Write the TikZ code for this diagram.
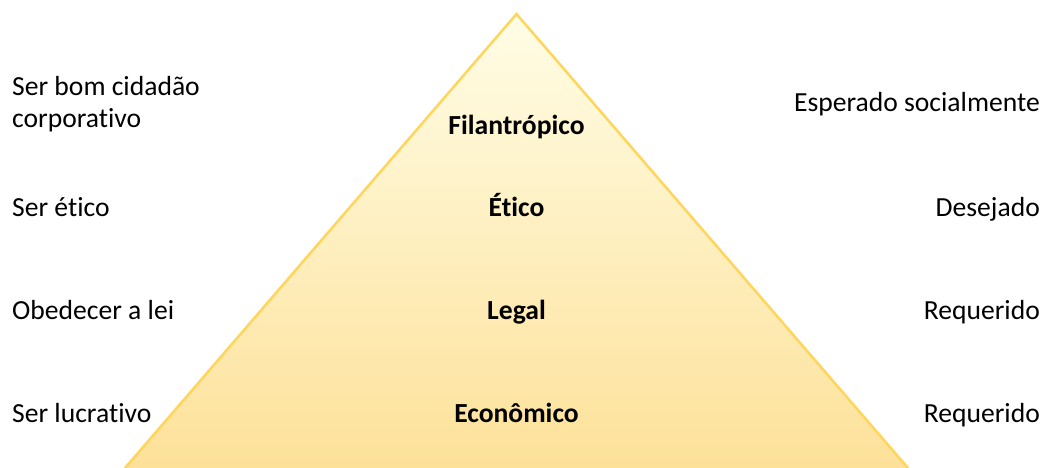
\documentclass[tikz,border=0pt]{standalone}
\usepackage{fontspec}
\setmainfont{Carlito}[Ligatures=NoCommon]
\definecolor{topfill}{HTML}{FFFDE6}
\definecolor{botfill}{HTML}{FDE199}
\definecolor{edge}{HTML}{FFD55C}
\begin{document}
\begin{tikzpicture}[x=1pt,y=-1pt,
  lbl/.style={font=\fontsize{27.6}{32.6}\selectfont, inner sep=0pt},
  lft/.style={lbl, anchor=base west, align=left},
  rgt/.style={lbl, anchor=base east, align=right},
  mid/.style={lbl, anchor=base, font=\fontsize{27.6}{32.6}\selectfont\bfseries}]
\useasboundingbox (0,0) rectangle (1043,468);
\coordinate (apex) at (516.5,14);
\coordinate (bl) at (125,468);
\coordinate (br) at (908,468);
\shade[top color=topfill, bottom color=botfill] (apex) -- (br) -- (bl) -- cycle;
\draw[edge, line width=2.5pt, line join=miter] (bl) -- (apex) -- (br);
\node[lft] (l1) at (12,128) {Ser bom cidadão\\corporativo};
\node[lft] (l2) at (12,216) {Ser ético};
\node[lft] (l3) at (12,319) {Obedecer a lei};
\node[lft] (l4) at (12,422) {Ser lucrativo};
\node[rgt] (r1) at (1040,112) {Esperado socialmente};
\node[rgt] (r2) at (1040,216) {Desejado};
\node[rgt] (r3) at (1040,319) {Requerido};
\node[rgt] (r4) at (1040,422) {Requerido};
\node[mid] (m1) at (516.5,134) {Filantrópico};
\node[mid] (m2) at (516.5,216) {Ético};
\node[mid] (m3) at (516.5,319) {Legal};
\node[mid] (m4) at (516.5,422) {Econômico};
\end{tikzpicture}
\end{document}
